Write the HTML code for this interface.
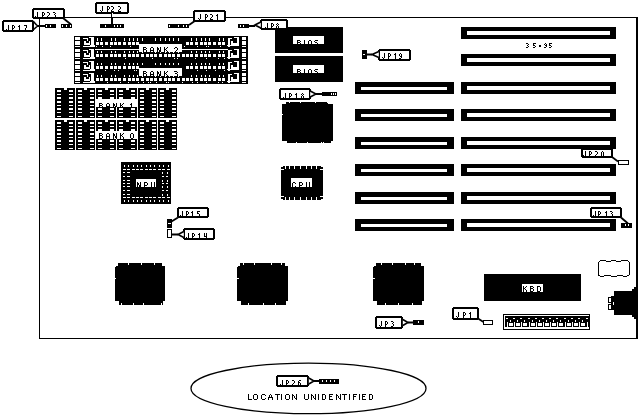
<!DOCTYPE html>
<html><head><meta charset="utf-8"><style>
html,body{margin:0;padding:0;background:#fff;width:639px;height:415px;overflow:hidden}
svg{display:block;will-change:transform}
text{font-family:"Liberation Sans",sans-serif}
</style></head><body>
<svg width="639" height="415" viewBox="0 0 639 415" shape-rendering="crispEdges">
<rect width="639" height="415" fill="#fff"/>
<rect x="39" y="17" width="598" height="1" fill="#000"/>
<rect x="39" y="17" width="1" height="322" fill="#000"/>
<rect x="39" y="338" width="598" height="1" fill="#000"/>
<rect x="636" y="17" width="2" height="322" fill="#000"/>
<rect x="461" y="27" width="155" height="12" fill="#000"/>
<rect x="467" y="31" width="143" height="4" fill="#fff"/>
<rect x="461" y="54" width="155" height="12" fill="#000"/>
<rect x="467" y="58" width="143" height="4" fill="#fff"/>
<rect x="461" y="82" width="155" height="12" fill="#000"/>
<rect x="467" y="86" width="143" height="4" fill="#fff"/>
<rect x="461" y="109" width="155" height="12" fill="#000"/>
<rect x="467" y="113" width="143" height="4" fill="#fff"/>
<rect x="461" y="137" width="155" height="12" fill="#000"/>
<rect x="467" y="141" width="143" height="4" fill="#fff"/>
<rect x="461" y="164" width="155" height="12" fill="#000"/>
<rect x="467" y="168" width="143" height="4" fill="#fff"/>
<rect x="461" y="192" width="155" height="12" fill="#000"/>
<rect x="467" y="196" width="143" height="4" fill="#fff"/>
<rect x="461" y="219" width="155" height="12" fill="#000"/>
<rect x="467" y="223" width="143" height="4" fill="#fff"/>
<rect x="355" y="82" width="99" height="12" fill="#000"/>
<rect x="361" y="87" width="86" height="3" fill="#fff"/>
<rect x="355" y="109" width="99" height="12" fill="#000"/>
<rect x="361" y="114" width="86" height="3" fill="#fff"/>
<rect x="355" y="137" width="99" height="12" fill="#000"/>
<rect x="361" y="142" width="86" height="3" fill="#fff"/>
<rect x="355" y="164" width="99" height="12" fill="#000"/>
<rect x="361" y="169" width="86" height="3" fill="#fff"/>
<rect x="355" y="192" width="99" height="12" fill="#000"/>
<rect x="361" y="197" width="86" height="3" fill="#fff"/>
<rect x="355" y="219" width="99" height="12" fill="#000"/>
<rect x="361" y="224" width="86" height="3" fill="#fff"/>
<path d="M525.6,43h2v1h-2zM527.6,44h1v1h-1zM526.6,45h1v1h-1zM527.6,46h1v1h-1zM525.6,47h2v1h-2zM532.8,43h3v1h-3zM532.8,44h1v1h-1zM532.8,45h2v1h-2zM534.8,46h1v1h-1zM532.8,47h2v1h-2zM544.7,43h1v1h-1zM543.7,44h1v1h-1zM545.7,44h1v1h-1zM544.7,45h2v1h-2zM545.7,46h1v1h-1zM543.7,47h2v1h-2zM548.7,43h3v1h-3zM548.7,44h1v1h-1zM548.7,45h2v1h-2zM550.7,46h1v1h-1zM548.7,47h2v1h-2z" fill="#000"/>
<rect x="539" y="45" width="2" height="2" fill="#000"/>
<rect x="275" y="27" width="68" height="26" fill="#000"/>
<rect x="293" y="36" width="31" height="8" fill="#fff"/>
<path d="M297,39.5h3v1h-3zM297,40.5h1v1h-1zM300,40.5h1v1h-1zM297,41.5h3v1h-3zM297,42.5h1v1h-1zM300,42.5h1v1h-1zM297,43.5h1v1h-1zM300,43.5h1v1h-1zM304,39.5h1v1h-1zM304,40.5h1v1h-1zM304,41.5h1v1h-1zM304,42.5h1v1h-1zM304,43.5h1v1h-1zM308.5,39.5h2v1h-2zM307.5,40.5h1v1h-1zM310.5,40.5h1v1h-1zM307.5,41.5h1v1h-1zM310.5,41.5h1v1h-1zM307.5,42.5h1v1h-1zM310.5,42.5h1v1h-1zM307.5,43.5h1v1h-1zM310.5,43.5h1v1h-1zM315,39.5h3v1h-3zM314,40.5h1v1h-1zM315,41.5h2v1h-2zM317,42.5h1v1h-1zM317,43.5h1v1h-1z" fill="#000"/>
<rect x="275" y="56" width="68" height="26" fill="#000"/>
<rect x="293" y="65" width="31" height="8" fill="#fff"/>
<path d="M297,68.5h3v1h-3zM297,69.5h1v1h-1zM300,69.5h1v1h-1zM297,70.5h3v1h-3zM297,71.5h1v1h-1zM300,71.5h1v1h-1zM297,72.5h1v1h-1zM300,72.5h1v1h-1zM304,68.5h1v1h-1zM304,69.5h1v1h-1zM304,70.5h1v1h-1zM304,71.5h1v1h-1zM304,72.5h1v1h-1zM308.5,68.5h2v1h-2zM307.5,69.5h1v1h-1zM310.5,69.5h1v1h-1zM307.5,70.5h1v1h-1zM310.5,70.5h1v1h-1zM307.5,71.5h1v1h-1zM310.5,71.5h1v1h-1zM307.5,72.5h1v1h-1zM310.5,72.5h1v1h-1zM315,68.5h3v1h-3zM314,69.5h1v1h-1zM315,70.5h2v1h-2zM317,71.5h1v1h-1zM317,72.5h1v1h-1z" fill="#000"/>
<rect x="282" y="104" width="51" height="37" fill="#000"/>
<rect x="286" y="102" width="42" height="2" fill="#000"/>
<rect x="287" y="141" width="44" height="2" fill="#000"/>
<rect x="289" y="102" width="1" height="1" fill="#fff"/>
<rect x="300" y="102" width="1" height="1" fill="#fff"/>
<rect x="315" y="102" width="1" height="1" fill="#fff"/>
<rect x="327" y="102" width="1" height="1" fill="#fff"/>
<rect x="296" y="142" width="1" height="1" fill="#fff"/>
<rect x="307" y="142" width="1" height="1" fill="#fff"/>
<rect x="321" y="142" width="1" height="1" fill="#fff"/>
<rect x="323" y="142" width="1" height="1" fill="#fff"/>
<rect x="282" y="114" width="1" height="1" fill="#fff"/>
<rect x="281" y="166" width="42" height="34" fill="#000"/>
<rect x="285" y="166" width="1" height="3" fill="#fff"/>
<rect x="285" y="197" width="1" height="3" fill="#fff"/>
<rect x="289" y="166" width="1" height="3" fill="#fff"/>
<rect x="289" y="197" width="1" height="3" fill="#fff"/>
<rect x="294" y="166" width="1" height="3" fill="#fff"/>
<rect x="294" y="197" width="1" height="3" fill="#fff"/>
<rect x="300" y="166" width="1" height="3" fill="#fff"/>
<rect x="300" y="197" width="1" height="3" fill="#fff"/>
<rect x="306" y="166" width="1" height="3" fill="#fff"/>
<rect x="306" y="197" width="1" height="3" fill="#fff"/>
<rect x="311" y="166" width="1" height="3" fill="#fff"/>
<rect x="311" y="197" width="1" height="3" fill="#fff"/>
<rect x="316" y="166" width="1" height="3" fill="#fff"/>
<rect x="316" y="197" width="1" height="3" fill="#fff"/>
<rect x="281" y="169" width="3" height="1" fill="#fff"/>
<rect x="320" y="169" width="3" height="1" fill="#fff"/>
<rect x="281" y="196" width="3" height="1" fill="#fff"/>
<rect x="320" y="196" width="3" height="1" fill="#fff"/>
<rect x="281" y="166" width="2" height="1" fill="#fff"/>
<rect x="321" y="166" width="2" height="1" fill="#fff"/>
<rect x="281" y="199" width="2" height="1" fill="#fff"/>
<rect x="321" y="199" width="2" height="1" fill="#fff"/>
<rect x="291" y="178" width="21" height="9" fill="#fff"/>
<path d="M293,181.5h2v1h-2zM292,182.5h1v1h-1zM295,182.5h1v1h-1zM292,183.5h1v1h-1zM292,184.5h1v1h-1zM292,185.5h1v1h-1zM295,185.5h1v1h-1zM293,186.5h2v1h-2zM299,181.5h3v1h-3zM299,182.5h1v1h-1zM302,182.5h1v1h-1zM299,183.5h1v1h-1zM302,183.5h1v1h-1zM299,184.5h3v1h-3zM299,185.5h1v1h-1zM299,186.5h1v1h-1zM306,181.5h1v1h-1zM309,181.5h1v1h-1zM306,182.5h1v1h-1zM309,182.5h1v1h-1zM306,183.5h1v1h-1zM309,183.5h1v1h-1zM306,184.5h1v1h-1zM309,184.5h1v1h-1zM306,185.5h1v1h-1zM309,185.5h1v1h-1zM307,186.5h2v1h-2z" fill="#000"/>
<rect x="121" y="162" width="50" height="42" fill="#000"/>
<rect x="136" y="179" width="20" height="8" fill="#fff"/>
<path d="M136.8,181.8h1v1h-1zM139.8,181.8h1v1h-1zM136.8,182.8h2v1h-2zM139.8,182.8h1v1h-1zM136.8,183.8h2v1h-2zM139.8,183.8h1v1h-1zM136.8,184.8h1v1h-1zM138.8,184.8h2v1h-2zM136.8,185.8h1v1h-1zM138.8,185.8h2v1h-2zM136.8,186.8h1v1h-1zM139.8,186.8h1v1h-1zM143.6,181.8h3v1h-3zM143.6,182.8h1v1h-1zM146.6,182.8h1v1h-1zM143.6,183.8h1v1h-1zM146.6,183.8h1v1h-1zM143.6,184.8h3v1h-3zM143.6,185.8h1v1h-1zM143.6,186.8h1v1h-1zM150.6,181.8h1v1h-1zM153.6,181.8h1v1h-1zM150.6,182.8h1v1h-1zM153.6,182.8h1v1h-1zM150.6,183.8h1v1h-1zM153.6,183.8h1v1h-1zM150.6,184.8h1v1h-1zM153.6,184.8h1v1h-1zM150.6,185.8h1v1h-1zM153.6,185.8h1v1h-1zM151.6,186.8h2v1h-2z" fill="#000"/>
<rect x="124" y="165" width="1" height="2" fill="#fff"/>
<rect x="123" y="169" width="3" height="1" fill="#fff"/>
<rect x="123" y="197" width="3" height="1" fill="#fff"/>
<rect x="124" y="200" width="1" height="2" fill="#fff"/>
<rect x="128" y="165" width="1" height="2" fill="#fff"/>
<rect x="127" y="169" width="3" height="1" fill="#fff"/>
<rect x="127" y="197" width="3" height="1" fill="#fff"/>
<rect x="128" y="200" width="1" height="2" fill="#fff"/>
<rect x="133" y="165" width="1" height="2" fill="#fff"/>
<rect x="132" y="169" width="3" height="1" fill="#fff"/>
<rect x="132" y="197" width="3" height="1" fill="#fff"/>
<rect x="133" y="200" width="1" height="2" fill="#fff"/>
<rect x="137" y="165" width="1" height="2" fill="#fff"/>
<rect x="136" y="169" width="3" height="1" fill="#fff"/>
<rect x="136" y="197" width="3" height="1" fill="#fff"/>
<rect x="137" y="200" width="1" height="2" fill="#fff"/>
<rect x="141" y="165" width="1" height="2" fill="#fff"/>
<rect x="140" y="169" width="3" height="1" fill="#fff"/>
<rect x="140" y="197" width="3" height="1" fill="#fff"/>
<rect x="141" y="200" width="1" height="2" fill="#fff"/>
<rect x="146" y="165" width="1" height="2" fill="#fff"/>
<rect x="145" y="169" width="3" height="1" fill="#fff"/>
<rect x="145" y="197" width="3" height="1" fill="#fff"/>
<rect x="146" y="200" width="1" height="2" fill="#fff"/>
<rect x="150" y="165" width="1" height="2" fill="#fff"/>
<rect x="149" y="169" width="3" height="1" fill="#fff"/>
<rect x="149" y="197" width="3" height="1" fill="#fff"/>
<rect x="150" y="200" width="1" height="2" fill="#fff"/>
<rect x="154" y="165" width="1" height="2" fill="#fff"/>
<rect x="153" y="169" width="3" height="1" fill="#fff"/>
<rect x="153" y="197" width="3" height="1" fill="#fff"/>
<rect x="154" y="200" width="1" height="2" fill="#fff"/>
<rect x="159" y="165" width="1" height="2" fill="#fff"/>
<rect x="158" y="169" width="3" height="1" fill="#fff"/>
<rect x="158" y="197" width="3" height="1" fill="#fff"/>
<rect x="159" y="200" width="1" height="2" fill="#fff"/>
<rect x="163" y="165" width="1" height="2" fill="#fff"/>
<rect x="162" y="169" width="3" height="1" fill="#fff"/>
<rect x="162" y="197" width="3" height="1" fill="#fff"/>
<rect x="163" y="200" width="1" height="2" fill="#fff"/>
<rect x="168" y="165" width="1" height="2" fill="#fff"/>
<rect x="167" y="169" width="3" height="1" fill="#fff"/>
<rect x="167" y="197" width="3" height="1" fill="#fff"/>
<rect x="168" y="200" width="1" height="2" fill="#fff"/>
<rect x="123" y="172" width="2" height="1" fill="#fff"/>
<rect x="127" y="172" width="3" height="1" fill="#fff"/>
<rect x="162" y="172" width="1" height="2" fill="#fff"/>
<rect x="167" y="172" width="1" height="2" fill="#fff"/>
<rect x="123" y="176" width="2" height="1" fill="#fff"/>
<rect x="127" y="176" width="3" height="1" fill="#fff"/>
<rect x="162" y="176" width="2" height="1" fill="#fff"/>
<rect x="166" y="176" width="2" height="1" fill="#fff"/>
<rect x="123" y="180" width="2" height="1" fill="#fff"/>
<rect x="127" y="180" width="3" height="1" fill="#fff"/>
<rect x="162" y="180" width="1" height="2" fill="#fff"/>
<rect x="167" y="180" width="1" height="2" fill="#fff"/>
<rect x="123" y="183" width="2" height="1" fill="#fff"/>
<rect x="127" y="183" width="3" height="1" fill="#fff"/>
<rect x="162" y="183" width="2" height="1" fill="#fff"/>
<rect x="166" y="183" width="2" height="1" fill="#fff"/>
<rect x="123" y="186" width="2" height="1" fill="#fff"/>
<rect x="127" y="186" width="3" height="1" fill="#fff"/>
<rect x="162" y="186" width="1" height="2" fill="#fff"/>
<rect x="167" y="186" width="1" height="2" fill="#fff"/>
<rect x="123" y="190" width="2" height="1" fill="#fff"/>
<rect x="127" y="190" width="3" height="1" fill="#fff"/>
<rect x="162" y="190" width="2" height="1" fill="#fff"/>
<rect x="166" y="190" width="2" height="1" fill="#fff"/>
<rect x="123" y="194" width="2" height="1" fill="#fff"/>
<rect x="127" y="194" width="3" height="1" fill="#fff"/>
<rect x="162" y="194" width="1" height="2" fill="#fff"/>
<rect x="167" y="194" width="1" height="2" fill="#fff"/>
<rect x="115" y="267" width="50" height="34" fill="#000"/>
<rect x="118" y="263" width="44" height="4" fill="#000"/>
<rect x="116" y="266" width="49" height="1" fill="#000"/>
<rect x="119" y="301" width="44" height="4" fill="#000"/>
<rect x="115" y="300" width="49" height="1" fill="#000"/>
<rect x="128" y="263" width="1" height="2" fill="#fff"/>
<rect x="141" y="263" width="1" height="2" fill="#fff"/>
<rect x="154" y="263" width="1" height="2" fill="#fff"/>
<rect x="121" y="303" width="1" height="2" fill="#fff"/>
<rect x="133" y="303" width="1" height="2" fill="#fff"/>
<rect x="143" y="303" width="1" height="2" fill="#fff"/>
<rect x="161" y="303" width="1" height="2" fill="#fff"/>
<rect x="115" y="293" width="0" height="0" fill="#fff"/>
<rect x="237" y="267" width="51" height="34" fill="#000"/>
<rect x="240" y="263" width="45" height="4" fill="#000"/>
<rect x="238" y="266" width="50" height="1" fill="#000"/>
<rect x="241" y="301" width="45" height="4" fill="#000"/>
<rect x="237" y="300" width="50" height="1" fill="#000"/>
<rect x="243" y="263" width="1" height="2" fill="#fff"/>
<rect x="254" y="263" width="1" height="2" fill="#fff"/>
<rect x="271" y="263" width="1" height="2" fill="#fff"/>
<rect x="281" y="263" width="1" height="2" fill="#fff"/>
<rect x="248" y="303" width="1" height="2" fill="#fff"/>
<rect x="263" y="303" width="1" height="2" fill="#fff"/>
<rect x="275" y="303" width="1" height="2" fill="#fff"/>
<rect x="237" y="293" width="0" height="0" fill="#fff"/>
<rect x="373" y="267" width="51" height="34" fill="#000"/>
<rect x="376" y="263" width="45" height="4" fill="#000"/>
<rect x="374" y="266" width="50" height="1" fill="#000"/>
<rect x="377" y="301" width="45" height="4" fill="#000"/>
<rect x="373" y="300" width="50" height="1" fill="#000"/>
<rect x="381" y="263" width="1" height="2" fill="#fff"/>
<rect x="392" y="263" width="1" height="2" fill="#fff"/>
<rect x="405" y="263" width="1" height="2" fill="#fff"/>
<rect x="414" y="263" width="1" height="2" fill="#fff"/>
<rect x="385" y="303" width="1" height="2" fill="#fff"/>
<rect x="398" y="303" width="1" height="2" fill="#fff"/>
<rect x="412" y="303" width="1" height="2" fill="#fff"/>
<rect x="373" y="293" width="0" height="0" fill="#fff"/>
<rect x="115" y="278" width="1" height="1" fill="#fff"/>
<rect x="237" y="278" width="2" height="1" fill="#fff"/>
<rect x="373" y="278" width="2" height="1" fill="#fff"/>
<rect x="484" y="274" width="97" height="27" fill="#000"/>
<rect x="522" y="284" width="21" height="8" fill="#fff"/>
<path d="M522.7,286h1v1h-1zM525.7,286h1v1h-1zM522.7,287h1v1h-1zM524.7,287h1v1h-1zM522.7,288h2v1h-2zM522.7,289h1v1h-1zM524.7,289h1v1h-1zM522.7,290h1v1h-1zM525.7,290h1v1h-1zM522.7,291h1v1h-1zM525.7,291h1v1h-1zM530,286h3v1h-3zM530,287h1v1h-1zM533,287h1v1h-1zM530,288h3v1h-3zM530,289h1v1h-1zM533,289h1v1h-1zM530,290h1v1h-1zM533,290h1v1h-1zM530,291h3v1h-3zM537,286h3v1h-3zM537,287h1v1h-1zM540,287h1v1h-1zM537,288h1v1h-1zM540,288h1v1h-1zM537,289h1v1h-1zM540,289h1v1h-1zM537,290h1v1h-1zM540,290h1v1h-1zM537,291h3v1h-3z" fill="#000"/>
<rect x="600" y="260" width="6" height="1" fill="#000"/>
<rect x="606" y="261" width="5" height="1" fill="#000"/>
<rect x="611" y="260" width="5" height="1" fill="#000"/>
<rect x="616" y="261" width="5" height="1" fill="#000"/>
<rect x="621" y="260" width="7" height="1" fill="#000"/>
<rect x="628" y="261" width="1" height="1" fill="#000"/>
<rect x="629" y="262" width="1" height="13" fill="#000"/>
<rect x="598" y="262" width="1" height="13" fill="#000"/>
<rect x="599" y="261" width="1" height="1" fill="#000"/>
<rect x="598" y="275" width="2" height="1" fill="#000"/>
<rect x="600" y="276" width="4" height="1" fill="#000"/>
<rect x="604" y="275" width="7" height="1" fill="#000"/>
<rect x="611" y="276" width="6" height="1" fill="#000"/>
<rect x="617" y="275" width="6" height="1" fill="#000"/>
<rect x="623" y="276" width="4" height="1" fill="#000"/>
<rect x="627" y="275" width="2" height="1" fill="#000"/>
<rect x="614" y="291" width="22" height="24" fill="#000"/>
<rect x="632" y="289" width="4" height="2" fill="#000"/>
<rect x="634" y="287" width="2" height="2" fill="#000"/>
<rect x="632" y="315" width="4" height="2" fill="#000"/>
<rect x="634" y="317" width="2" height="2" fill="#000"/>
<rect x="611" y="296" width="3" height="14" fill="#000"/>
<rect x="613" y="302" width="1" height="3" fill="#fff"/>
<rect x="608.5" y="297.5" width="3" height="5" fill="#fff" stroke="#000"/>
<rect x="608.5" y="304.5" width="3" height="5" fill="#fff" stroke="#000"/>
<rect x="503" y="314" width="87" height="16" fill="#000"/>
<rect x="504" y="315" width="85" height="14" fill="#fff"/>
<rect x="505" y="316" width="84" height="11" fill="#000"/>
<rect x="504" y="320" width="1" height="2" fill="#fff"/>
<rect x="509" y="323" width="4" height="3" fill="#fff"/>
<rect x="510" y="320" width="1" height="2" fill="#fff"/>
<rect x="507" y="322" width="1" height="5" fill="#fff"/>
<rect x="506" y="318" width="2" height="1" fill="#fff"/>
<rect x="516" y="323" width="4" height="3" fill="#fff"/>
<rect x="517" y="320" width="1" height="2" fill="#fff"/>
<rect x="514" y="322" width="1" height="5" fill="#fff"/>
<rect x="513" y="318" width="2" height="1" fill="#fff"/>
<rect x="523" y="323" width="4" height="3" fill="#fff"/>
<rect x="524" y="320" width="1" height="2" fill="#fff"/>
<rect x="521" y="322" width="1" height="5" fill="#fff"/>
<rect x="520" y="318" width="2" height="1" fill="#fff"/>
<rect x="531" y="323" width="4" height="3" fill="#fff"/>
<rect x="532" y="320" width="1" height="2" fill="#fff"/>
<rect x="529" y="322" width="1" height="5" fill="#fff"/>
<rect x="528" y="318" width="2" height="1" fill="#fff"/>
<rect x="538" y="323" width="4" height="3" fill="#fff"/>
<rect x="539" y="320" width="1" height="2" fill="#fff"/>
<rect x="536" y="322" width="1" height="5" fill="#fff"/>
<rect x="535" y="318" width="2" height="1" fill="#fff"/>
<rect x="545" y="323" width="4" height="3" fill="#fff"/>
<rect x="546" y="320" width="1" height="2" fill="#fff"/>
<rect x="543" y="322" width="1" height="5" fill="#fff"/>
<rect x="542" y="318" width="2" height="1" fill="#fff"/>
<rect x="552" y="323" width="4" height="3" fill="#fff"/>
<rect x="553" y="320" width="1" height="2" fill="#fff"/>
<rect x="550" y="322" width="1" height="5" fill="#fff"/>
<rect x="549" y="318" width="2" height="1" fill="#fff"/>
<rect x="559" y="323" width="4" height="3" fill="#fff"/>
<rect x="560" y="320" width="1" height="2" fill="#fff"/>
<rect x="557" y="322" width="1" height="5" fill="#fff"/>
<rect x="556" y="318" width="2" height="1" fill="#fff"/>
<rect x="567" y="323" width="4" height="3" fill="#fff"/>
<rect x="568" y="320" width="1" height="2" fill="#fff"/>
<rect x="565" y="322" width="1" height="5" fill="#fff"/>
<rect x="564" y="318" width="2" height="1" fill="#fff"/>
<rect x="574" y="323" width="4" height="3" fill="#fff"/>
<rect x="575" y="320" width="1" height="2" fill="#fff"/>
<rect x="572" y="322" width="1" height="5" fill="#fff"/>
<rect x="571" y="318" width="2" height="1" fill="#fff"/>
<rect x="581" y="323" width="4" height="3" fill="#fff"/>
<rect x="582" y="320" width="1" height="2" fill="#fff"/>
<rect x="579" y="322" width="1" height="5" fill="#fff"/>
<rect x="578" y="318" width="2" height="1" fill="#fff"/>
<rect x="587" y="322" width="1" height="5" fill="#fff"/>
<rect x="586" y="318" width="2" height="1" fill="#fff"/>
<rect x="55" y="88" width="20" height="30" fill="#000"/>
<rect x="64" y="88" width="3" height="2" fill="#fff"/>
<rect x="57" y="90" width="4" height="2" fill="#fff"/>
<rect x="69" y="90" width="4" height="2" fill="#fff"/>
<rect x="57" y="94" width="4" height="1" fill="#fff"/>
<rect x="69" y="94" width="4" height="1" fill="#fff"/>
<rect x="57" y="97" width="4" height="2" fill="#fff"/>
<rect x="69" y="97" width="4" height="2" fill="#fff"/>
<rect x="57" y="101" width="4" height="2" fill="#fff"/>
<rect x="69" y="101" width="4" height="2" fill="#fff"/>
<rect x="57" y="105" width="4" height="1" fill="#fff"/>
<rect x="69" y="105" width="4" height="1" fill="#fff"/>
<rect x="57" y="108" width="4" height="2" fill="#fff"/>
<rect x="69" y="108" width="4" height="2" fill="#fff"/>
<rect x="57" y="112" width="4" height="1" fill="#fff"/>
<rect x="69" y="112" width="4" height="1" fill="#fff"/>
<rect x="57" y="116" width="4" height="1" fill="#fff"/>
<rect x="69" y="116" width="4" height="1" fill="#fff"/>
<rect x="76" y="88" width="19" height="30" fill="#000"/>
<rect x="84" y="88" width="3" height="2" fill="#fff"/>
<rect x="78" y="90" width="4" height="2" fill="#fff"/>
<rect x="90" y="90" width="4" height="2" fill="#fff"/>
<rect x="78" y="94" width="4" height="1" fill="#fff"/>
<rect x="90" y="94" width="4" height="1" fill="#fff"/>
<rect x="78" y="97" width="4" height="2" fill="#fff"/>
<rect x="90" y="97" width="4" height="2" fill="#fff"/>
<rect x="78" y="101" width="4" height="2" fill="#fff"/>
<rect x="90" y="101" width="4" height="2" fill="#fff"/>
<rect x="78" y="105" width="4" height="1" fill="#fff"/>
<rect x="90" y="105" width="4" height="1" fill="#fff"/>
<rect x="78" y="108" width="4" height="2" fill="#fff"/>
<rect x="90" y="108" width="4" height="2" fill="#fff"/>
<rect x="78" y="112" width="4" height="1" fill="#fff"/>
<rect x="90" y="112" width="4" height="1" fill="#fff"/>
<rect x="78" y="116" width="4" height="1" fill="#fff"/>
<rect x="90" y="116" width="4" height="1" fill="#fff"/>
<rect x="96" y="88" width="20" height="30" fill="#000"/>
<rect x="105" y="88" width="3" height="2" fill="#fff"/>
<rect x="98" y="90" width="4" height="2" fill="#fff"/>
<rect x="110" y="90" width="4" height="2" fill="#fff"/>
<rect x="98" y="94" width="4" height="1" fill="#fff"/>
<rect x="110" y="94" width="4" height="1" fill="#fff"/>
<rect x="98" y="97" width="4" height="2" fill="#fff"/>
<rect x="110" y="97" width="4" height="2" fill="#fff"/>
<rect x="98" y="101" width="4" height="2" fill="#fff"/>
<rect x="110" y="101" width="4" height="2" fill="#fff"/>
<rect x="98" y="105" width="4" height="1" fill="#fff"/>
<rect x="110" y="105" width="4" height="1" fill="#fff"/>
<rect x="98" y="108" width="4" height="2" fill="#fff"/>
<rect x="110" y="108" width="4" height="2" fill="#fff"/>
<rect x="98" y="112" width="4" height="1" fill="#fff"/>
<rect x="110" y="112" width="4" height="1" fill="#fff"/>
<rect x="98" y="116" width="4" height="1" fill="#fff"/>
<rect x="110" y="116" width="4" height="1" fill="#fff"/>
<rect x="117" y="88" width="20" height="30" fill="#000"/>
<rect x="126" y="88" width="3" height="2" fill="#fff"/>
<rect x="119" y="90" width="4" height="2" fill="#fff"/>
<rect x="131" y="90" width="4" height="2" fill="#fff"/>
<rect x="119" y="94" width="4" height="1" fill="#fff"/>
<rect x="131" y="94" width="4" height="1" fill="#fff"/>
<rect x="119" y="97" width="4" height="2" fill="#fff"/>
<rect x="131" y="97" width="4" height="2" fill="#fff"/>
<rect x="119" y="101" width="4" height="2" fill="#fff"/>
<rect x="131" y="101" width="4" height="2" fill="#fff"/>
<rect x="119" y="105" width="4" height="1" fill="#fff"/>
<rect x="131" y="105" width="4" height="1" fill="#fff"/>
<rect x="119" y="108" width="4" height="2" fill="#fff"/>
<rect x="131" y="108" width="4" height="2" fill="#fff"/>
<rect x="119" y="112" width="4" height="1" fill="#fff"/>
<rect x="131" y="112" width="4" height="1" fill="#fff"/>
<rect x="119" y="116" width="4" height="1" fill="#fff"/>
<rect x="131" y="116" width="4" height="1" fill="#fff"/>
<rect x="138" y="88" width="19" height="30" fill="#000"/>
<rect x="146" y="88" width="3" height="2" fill="#fff"/>
<rect x="140" y="90" width="4" height="2" fill="#fff"/>
<rect x="152" y="90" width="4" height="2" fill="#fff"/>
<rect x="140" y="94" width="4" height="1" fill="#fff"/>
<rect x="152" y="94" width="4" height="1" fill="#fff"/>
<rect x="140" y="97" width="4" height="2" fill="#fff"/>
<rect x="152" y="97" width="4" height="2" fill="#fff"/>
<rect x="140" y="101" width="4" height="2" fill="#fff"/>
<rect x="152" y="101" width="4" height="2" fill="#fff"/>
<rect x="140" y="105" width="4" height="1" fill="#fff"/>
<rect x="152" y="105" width="4" height="1" fill="#fff"/>
<rect x="140" y="108" width="4" height="2" fill="#fff"/>
<rect x="152" y="108" width="4" height="2" fill="#fff"/>
<rect x="140" y="112" width="4" height="1" fill="#fff"/>
<rect x="152" y="112" width="4" height="1" fill="#fff"/>
<rect x="140" y="116" width="4" height="1" fill="#fff"/>
<rect x="152" y="116" width="4" height="1" fill="#fff"/>
<rect x="158" y="88" width="19" height="30" fill="#000"/>
<rect x="166" y="88" width="3" height="2" fill="#fff"/>
<rect x="160" y="90" width="4" height="2" fill="#fff"/>
<rect x="172" y="90" width="4" height="2" fill="#fff"/>
<rect x="160" y="94" width="4" height="1" fill="#fff"/>
<rect x="172" y="94" width="4" height="1" fill="#fff"/>
<rect x="160" y="97" width="4" height="2" fill="#fff"/>
<rect x="172" y="97" width="4" height="2" fill="#fff"/>
<rect x="160" y="101" width="4" height="2" fill="#fff"/>
<rect x="172" y="101" width="4" height="2" fill="#fff"/>
<rect x="160" y="105" width="4" height="1" fill="#fff"/>
<rect x="172" y="105" width="4" height="1" fill="#fff"/>
<rect x="160" y="108" width="4" height="2" fill="#fff"/>
<rect x="172" y="108" width="4" height="2" fill="#fff"/>
<rect x="160" y="112" width="4" height="1" fill="#fff"/>
<rect x="172" y="112" width="4" height="1" fill="#fff"/>
<rect x="160" y="116" width="4" height="1" fill="#fff"/>
<rect x="172" y="116" width="4" height="1" fill="#fff"/>
<rect x="55" y="120" width="20" height="30" fill="#000"/>
<rect x="64" y="120" width="3" height="2" fill="#fff"/>
<rect x="57" y="122" width="4" height="2" fill="#fff"/>
<rect x="69" y="122" width="4" height="2" fill="#fff"/>
<rect x="57" y="126" width="4" height="1" fill="#fff"/>
<rect x="69" y="126" width="4" height="1" fill="#fff"/>
<rect x="57" y="129" width="4" height="2" fill="#fff"/>
<rect x="69" y="129" width="4" height="2" fill="#fff"/>
<rect x="57" y="133" width="4" height="2" fill="#fff"/>
<rect x="69" y="133" width="4" height="2" fill="#fff"/>
<rect x="57" y="137" width="4" height="1" fill="#fff"/>
<rect x="69" y="137" width="4" height="1" fill="#fff"/>
<rect x="57" y="140" width="4" height="2" fill="#fff"/>
<rect x="69" y="140" width="4" height="2" fill="#fff"/>
<rect x="57" y="144" width="4" height="1" fill="#fff"/>
<rect x="69" y="144" width="4" height="1" fill="#fff"/>
<rect x="57" y="148" width="4" height="1" fill="#fff"/>
<rect x="69" y="148" width="4" height="1" fill="#fff"/>
<rect x="76" y="120" width="19" height="30" fill="#000"/>
<rect x="84" y="120" width="3" height="2" fill="#fff"/>
<rect x="78" y="122" width="4" height="2" fill="#fff"/>
<rect x="90" y="122" width="4" height="2" fill="#fff"/>
<rect x="78" y="126" width="4" height="1" fill="#fff"/>
<rect x="90" y="126" width="4" height="1" fill="#fff"/>
<rect x="78" y="129" width="4" height="2" fill="#fff"/>
<rect x="90" y="129" width="4" height="2" fill="#fff"/>
<rect x="78" y="133" width="4" height="2" fill="#fff"/>
<rect x="90" y="133" width="4" height="2" fill="#fff"/>
<rect x="78" y="137" width="4" height="1" fill="#fff"/>
<rect x="90" y="137" width="4" height="1" fill="#fff"/>
<rect x="78" y="140" width="4" height="2" fill="#fff"/>
<rect x="90" y="140" width="4" height="2" fill="#fff"/>
<rect x="78" y="144" width="4" height="1" fill="#fff"/>
<rect x="90" y="144" width="4" height="1" fill="#fff"/>
<rect x="78" y="148" width="4" height="1" fill="#fff"/>
<rect x="90" y="148" width="4" height="1" fill="#fff"/>
<rect x="96" y="120" width="20" height="30" fill="#000"/>
<rect x="105" y="120" width="3" height="2" fill="#fff"/>
<rect x="98" y="122" width="4" height="2" fill="#fff"/>
<rect x="110" y="122" width="4" height="2" fill="#fff"/>
<rect x="98" y="126" width="4" height="1" fill="#fff"/>
<rect x="110" y="126" width="4" height="1" fill="#fff"/>
<rect x="98" y="129" width="4" height="2" fill="#fff"/>
<rect x="110" y="129" width="4" height="2" fill="#fff"/>
<rect x="98" y="133" width="4" height="2" fill="#fff"/>
<rect x="110" y="133" width="4" height="2" fill="#fff"/>
<rect x="98" y="137" width="4" height="1" fill="#fff"/>
<rect x="110" y="137" width="4" height="1" fill="#fff"/>
<rect x="98" y="140" width="4" height="2" fill="#fff"/>
<rect x="110" y="140" width="4" height="2" fill="#fff"/>
<rect x="98" y="144" width="4" height="1" fill="#fff"/>
<rect x="110" y="144" width="4" height="1" fill="#fff"/>
<rect x="98" y="148" width="4" height="1" fill="#fff"/>
<rect x="110" y="148" width="4" height="1" fill="#fff"/>
<rect x="117" y="120" width="20" height="30" fill="#000"/>
<rect x="126" y="120" width="3" height="2" fill="#fff"/>
<rect x="119" y="122" width="4" height="2" fill="#fff"/>
<rect x="131" y="122" width="4" height="2" fill="#fff"/>
<rect x="119" y="126" width="4" height="1" fill="#fff"/>
<rect x="131" y="126" width="4" height="1" fill="#fff"/>
<rect x="119" y="129" width="4" height="2" fill="#fff"/>
<rect x="131" y="129" width="4" height="2" fill="#fff"/>
<rect x="119" y="133" width="4" height="2" fill="#fff"/>
<rect x="131" y="133" width="4" height="2" fill="#fff"/>
<rect x="119" y="137" width="4" height="1" fill="#fff"/>
<rect x="131" y="137" width="4" height="1" fill="#fff"/>
<rect x="119" y="140" width="4" height="2" fill="#fff"/>
<rect x="131" y="140" width="4" height="2" fill="#fff"/>
<rect x="119" y="144" width="4" height="1" fill="#fff"/>
<rect x="131" y="144" width="4" height="1" fill="#fff"/>
<rect x="119" y="148" width="4" height="1" fill="#fff"/>
<rect x="131" y="148" width="4" height="1" fill="#fff"/>
<rect x="138" y="120" width="19" height="30" fill="#000"/>
<rect x="146" y="120" width="3" height="2" fill="#fff"/>
<rect x="140" y="122" width="4" height="2" fill="#fff"/>
<rect x="152" y="122" width="4" height="2" fill="#fff"/>
<rect x="140" y="126" width="4" height="1" fill="#fff"/>
<rect x="152" y="126" width="4" height="1" fill="#fff"/>
<rect x="140" y="129" width="4" height="2" fill="#fff"/>
<rect x="152" y="129" width="4" height="2" fill="#fff"/>
<rect x="140" y="133" width="4" height="2" fill="#fff"/>
<rect x="152" y="133" width="4" height="2" fill="#fff"/>
<rect x="140" y="137" width="4" height="1" fill="#fff"/>
<rect x="152" y="137" width="4" height="1" fill="#fff"/>
<rect x="140" y="140" width="4" height="2" fill="#fff"/>
<rect x="152" y="140" width="4" height="2" fill="#fff"/>
<rect x="140" y="144" width="4" height="1" fill="#fff"/>
<rect x="152" y="144" width="4" height="1" fill="#fff"/>
<rect x="140" y="148" width="4" height="1" fill="#fff"/>
<rect x="152" y="148" width="4" height="1" fill="#fff"/>
<rect x="158" y="120" width="19" height="30" fill="#000"/>
<rect x="166" y="120" width="3" height="2" fill="#fff"/>
<rect x="160" y="122" width="4" height="2" fill="#fff"/>
<rect x="172" y="122" width="4" height="2" fill="#fff"/>
<rect x="160" y="126" width="4" height="1" fill="#fff"/>
<rect x="172" y="126" width="4" height="1" fill="#fff"/>
<rect x="160" y="129" width="4" height="2" fill="#fff"/>
<rect x="172" y="129" width="4" height="2" fill="#fff"/>
<rect x="160" y="133" width="4" height="2" fill="#fff"/>
<rect x="172" y="133" width="4" height="2" fill="#fff"/>
<rect x="160" y="137" width="4" height="1" fill="#fff"/>
<rect x="172" y="137" width="4" height="1" fill="#fff"/>
<rect x="160" y="140" width="4" height="2" fill="#fff"/>
<rect x="172" y="140" width="4" height="2" fill="#fff"/>
<rect x="160" y="144" width="4" height="1" fill="#fff"/>
<rect x="172" y="144" width="4" height="1" fill="#fff"/>
<rect x="160" y="148" width="4" height="1" fill="#fff"/>
<rect x="172" y="148" width="4" height="1" fill="#fff"/>
<rect x="95" y="99" width="42" height="8" fill="#fff"/>
<path d="M99,103h3v1h-3zM99,104h1v1h-1zM102,104h1v1h-1zM99,105h3v1h-3zM99,106h1v1h-1zM102,106h1v1h-1zM106.5,103h2v1h-2zM105.5,104h1v1h-1zM108.5,104h1v1h-1zM105.5,105h1v1h-1zM108.5,105h1v1h-1zM105.5,106h4v1h-4zM112.5,103h1v1h-1zM115.5,103h1v1h-1zM112.5,104h2v1h-2zM115.5,104h1v1h-1zM112.5,105h2v1h-2zM115.5,105h1v1h-1zM112.5,106h1v1h-1zM114.5,106h2v1h-2zM120,103h1v1h-1zM123,103h1v1h-1zM120,104h1v1h-1zM122,104h1v1h-1zM120,105h2v1h-2zM120,106h1v1h-1zM122,106h1v1h-1zM131,103h1v1h-1zM130,104h2v1h-2zM131,105h1v1h-1zM131,106h1v1h-1z" fill="#000"/>
<rect x="95" y="131" width="42" height="8" fill="#fff"/>
<path d="M99,133h3v1h-3zM99,134h1v1h-1zM102,134h1v1h-1zM99,135h3v1h-3zM99,136h1v1h-1zM102,136h1v1h-1zM99,137h1v1h-1zM102,137h1v1h-1zM99,138h3v1h-3zM106.5,133h2v1h-2zM105.5,134h1v1h-1zM108.5,134h1v1h-1zM105.5,135h1v1h-1zM108.5,135h1v1h-1zM105.5,136h4v1h-4zM105.5,137h1v1h-1zM108.5,137h1v1h-1zM105.5,138h1v1h-1zM108.5,138h1v1h-1zM112.5,133h1v1h-1zM115.5,133h1v1h-1zM112.5,134h2v1h-2zM115.5,134h1v1h-1zM112.5,135h2v1h-2zM115.5,135h1v1h-1zM112.5,136h1v1h-1zM114.5,136h2v1h-2zM112.5,137h1v1h-1zM114.5,137h2v1h-2zM112.5,138h1v1h-1zM115.5,138h1v1h-1zM120,133h1v1h-1zM123,133h1v1h-1zM120,134h1v1h-1zM122,134h1v1h-1zM120,135h2v1h-2zM120,136h1v1h-1zM122,136h1v1h-1zM120,137h1v1h-1zM123,137h1v1h-1zM120,138h1v1h-1zM123,138h1v1h-1zM131,133h2v1h-2zM130,134h1v1h-1zM133,134h1v1h-1zM130,135h1v1h-1zM133,135h1v1h-1zM130,136h1v1h-1zM133,136h1v1h-1zM130,137h1v1h-1zM133,137h1v1h-1zM131,138h2v1h-2z" fill="#000"/>
<rect x="74" y="36" width="174" height="48" fill="#000"/>
<rect x="75" y="37" width="5" height="3" fill="#fff"/>
<rect x="75" y="41" width="5" height="4" fill="#fff"/>
<rect x="75" y="46" width="5" height="1" fill="#fff"/>
<rect x="83" y="38" width="5" height="1" fill="#fff"/>
<rect x="87" y="38" width="1" height="3" fill="#fff"/>
<rect x="84" y="41" width="6" height="4" fill="#fff"/>
<rect x="86" y="41" width="3" height="2" fill="#000"/>
<rect x="91" y="37" width="3" height="9" fill="#fff"/>
<rect x="89" y="37" width="2" height="1" fill="#fff"/>
<rect x="83" y="46" width="12" height="1" fill="#fff"/>
<rect x="90" y="45" width="5" height="1" fill="#fff"/>
<rect x="96" y="42" width="3" height="3" fill="#fff"/>
<rect x="97" y="38" width="1" height="3" fill="#fff"/>
<rect x="96" y="46" width="1" height="1" fill="#fff"/>
<rect x="100" y="42" width="3" height="3" fill="#fff"/>
<rect x="101" y="38" width="1" height="3" fill="#fff"/>
<rect x="102" y="46" width="1" height="1" fill="#fff"/>
<rect x="105" y="42" width="3" height="3" fill="#fff"/>
<rect x="110" y="42" width="3" height="3" fill="#fff"/>
<rect x="111" y="38" width="1" height="3" fill="#fff"/>
<rect x="110" y="46" width="1" height="1" fill="#fff"/>
<rect x="114" y="42" width="3" height="3" fill="#fff"/>
<rect x="115" y="38" width="1" height="3" fill="#fff"/>
<rect x="118" y="42" width="3" height="3" fill="#fff"/>
<rect x="123" y="42" width="3" height="3" fill="#fff"/>
<rect x="124" y="38" width="1" height="3" fill="#fff"/>
<rect x="128" y="42" width="3" height="3" fill="#fff"/>
<rect x="129" y="38" width="1" height="3" fill="#fff"/>
<rect x="130" y="46" width="1" height="1" fill="#fff"/>
<rect x="132" y="42" width="3" height="3" fill="#fff"/>
<rect x="133" y="38" width="1" height="3" fill="#fff"/>
<rect x="136" y="42" width="3" height="3" fill="#fff"/>
<rect x="137" y="38" width="1" height="3" fill="#fff"/>
<rect x="142" y="38" width="1" height="3" fill="#fff"/>
<rect x="141" y="46" width="1" height="1" fill="#fff"/>
<rect x="146" y="46" width="1" height="1" fill="#fff"/>
<rect x="155" y="38" width="1" height="3" fill="#fff"/>
<rect x="160" y="38" width="1" height="3" fill="#fff"/>
<rect x="165" y="38" width="1" height="3" fill="#fff"/>
<rect x="169" y="38" width="1" height="3" fill="#fff"/>
<rect x="168" y="46" width="1" height="1" fill="#fff"/>
<rect x="173" y="38" width="1" height="3" fill="#fff"/>
<rect x="172" y="46" width="1" height="1" fill="#fff"/>
<rect x="178" y="38" width="1" height="3" fill="#fff"/>
<rect x="184" y="46" width="1" height="1" fill="#fff"/>
<rect x="186" y="42" width="3" height="3" fill="#fff"/>
<rect x="190" y="42" width="3" height="3" fill="#fff"/>
<rect x="191" y="38" width="1" height="3" fill="#fff"/>
<rect x="195" y="42" width="3" height="3" fill="#fff"/>
<rect x="196" y="38" width="1" height="3" fill="#fff"/>
<rect x="197" y="46" width="1" height="1" fill="#fff"/>
<rect x="200" y="42" width="3" height="3" fill="#fff"/>
<rect x="201" y="38" width="1" height="3" fill="#fff"/>
<rect x="204" y="42" width="3" height="3" fill="#fff"/>
<rect x="205" y="38" width="1" height="3" fill="#fff"/>
<rect x="206" y="46" width="1" height="1" fill="#fff"/>
<rect x="208" y="42" width="3" height="3" fill="#fff"/>
<rect x="209" y="38" width="1" height="3" fill="#fff"/>
<rect x="208" y="46" width="1" height="1" fill="#fff"/>
<rect x="213" y="42" width="3" height="3" fill="#fff"/>
<rect x="218" y="42" width="3" height="3" fill="#fff"/>
<rect x="219" y="38" width="1" height="3" fill="#fff"/>
<rect x="220" y="46" width="1" height="1" fill="#fff"/>
<rect x="222" y="42" width="3" height="3" fill="#fff"/>
<rect x="223" y="38" width="1" height="3" fill="#fff"/>
<rect x="228" y="38" width="2" height="9" fill="#fff"/>
<rect x="228" y="38" width="4" height="1" fill="#fff"/>
<rect x="227" y="45" width="12" height="1" fill="#fff"/>
<rect x="234" y="37" width="5" height="1" fill="#fff"/>
<rect x="237" y="37" width="2" height="4" fill="#fff"/>
<rect x="231" y="41" width="8" height="4" fill="#fff"/>
<rect x="233" y="41" width="4" height="2" fill="#000"/>
<rect x="242" y="37" width="4" height="3" fill="#fff"/>
<rect x="242" y="41" width="4" height="4" fill="#fff"/>
<rect x="242" y="46" width="4" height="1" fill="#fff"/>
<rect x="75" y="49" width="5" height="3" fill="#fff"/>
<rect x="75" y="53" width="5" height="4" fill="#fff"/>
<rect x="75" y="58" width="5" height="1" fill="#fff"/>
<rect x="83" y="50" width="5" height="1" fill="#fff"/>
<rect x="87" y="50" width="1" height="3" fill="#fff"/>
<rect x="84" y="53" width="6" height="4" fill="#fff"/>
<rect x="86" y="53" width="3" height="2" fill="#000"/>
<rect x="91" y="49" width="3" height="9" fill="#fff"/>
<rect x="89" y="49" width="2" height="1" fill="#fff"/>
<rect x="83" y="58" width="12" height="1" fill="#fff"/>
<rect x="90" y="57" width="5" height="1" fill="#fff"/>
<rect x="96" y="54" width="3" height="3" fill="#fff"/>
<rect x="97" y="51" width="1" height="2" fill="#fff"/>
<rect x="100" y="54" width="3" height="3" fill="#fff"/>
<rect x="101" y="51" width="1" height="2" fill="#fff"/>
<rect x="105" y="54" width="3" height="3" fill="#fff"/>
<rect x="110" y="54" width="3" height="3" fill="#fff"/>
<rect x="111" y="51" width="1" height="2" fill="#fff"/>
<rect x="114" y="54" width="3" height="3" fill="#fff"/>
<rect x="115" y="51" width="1" height="2" fill="#fff"/>
<rect x="118" y="54" width="3" height="3" fill="#fff"/>
<rect x="123" y="54" width="3" height="3" fill="#fff"/>
<rect x="124" y="51" width="1" height="2" fill="#fff"/>
<rect x="125" y="58" width="1" height="1" fill="#fff"/>
<rect x="128" y="54" width="3" height="3" fill="#fff"/>
<rect x="129" y="51" width="1" height="2" fill="#fff"/>
<rect x="132" y="54" width="3" height="3" fill="#fff"/>
<rect x="133" y="51" width="1" height="2" fill="#fff"/>
<rect x="136" y="54" width="3" height="3" fill="#fff"/>
<rect x="137" y="51" width="1" height="2" fill="#fff"/>
<rect x="141" y="54" width="3" height="3" fill="#fff"/>
<rect x="142" y="51" width="1" height="2" fill="#fff"/>
<rect x="146" y="54" width="3" height="3" fill="#fff"/>
<rect x="150" y="54" width="3" height="3" fill="#fff"/>
<rect x="152" y="58" width="1" height="1" fill="#fff"/>
<rect x="154" y="54" width="3" height="3" fill="#fff"/>
<rect x="155" y="51" width="1" height="2" fill="#fff"/>
<rect x="159" y="54" width="3" height="3" fill="#fff"/>
<rect x="160" y="51" width="1" height="2" fill="#fff"/>
<rect x="164" y="54" width="3" height="3" fill="#fff"/>
<rect x="165" y="51" width="1" height="2" fill="#fff"/>
<rect x="168" y="54" width="3" height="3" fill="#fff"/>
<rect x="169" y="51" width="1" height="2" fill="#fff"/>
<rect x="172" y="54" width="3" height="3" fill="#fff"/>
<rect x="173" y="51" width="1" height="2" fill="#fff"/>
<rect x="174" y="58" width="1" height="1" fill="#fff"/>
<rect x="177" y="54" width="3" height="3" fill="#fff"/>
<rect x="178" y="51" width="1" height="2" fill="#fff"/>
<rect x="177" y="58" width="1" height="1" fill="#fff"/>
<rect x="182" y="54" width="3" height="3" fill="#fff"/>
<rect x="186" y="54" width="3" height="3" fill="#fff"/>
<rect x="190" y="54" width="3" height="3" fill="#fff"/>
<rect x="191" y="51" width="1" height="2" fill="#fff"/>
<rect x="195" y="54" width="3" height="3" fill="#fff"/>
<rect x="196" y="51" width="1" height="2" fill="#fff"/>
<rect x="195" y="58" width="1" height="1" fill="#fff"/>
<rect x="200" y="54" width="3" height="3" fill="#fff"/>
<rect x="201" y="51" width="1" height="2" fill="#fff"/>
<rect x="204" y="54" width="3" height="3" fill="#fff"/>
<rect x="205" y="51" width="1" height="2" fill="#fff"/>
<rect x="206" y="58" width="1" height="1" fill="#fff"/>
<rect x="208" y="54" width="3" height="3" fill="#fff"/>
<rect x="209" y="51" width="1" height="2" fill="#fff"/>
<rect x="213" y="54" width="3" height="3" fill="#fff"/>
<rect x="218" y="54" width="3" height="3" fill="#fff"/>
<rect x="219" y="51" width="1" height="2" fill="#fff"/>
<rect x="218" y="58" width="1" height="1" fill="#fff"/>
<rect x="222" y="54" width="3" height="3" fill="#fff"/>
<rect x="223" y="51" width="1" height="2" fill="#fff"/>
<rect x="224" y="58" width="1" height="1" fill="#fff"/>
<rect x="228" y="50" width="2" height="9" fill="#fff"/>
<rect x="228" y="50" width="4" height="1" fill="#fff"/>
<rect x="227" y="57" width="12" height="1" fill="#fff"/>
<rect x="234" y="49" width="5" height="1" fill="#fff"/>
<rect x="237" y="49" width="2" height="4" fill="#fff"/>
<rect x="231" y="53" width="8" height="4" fill="#fff"/>
<rect x="233" y="53" width="4" height="2" fill="#000"/>
<rect x="242" y="49" width="4" height="3" fill="#fff"/>
<rect x="242" y="53" width="4" height="4" fill="#fff"/>
<rect x="242" y="58" width="4" height="1" fill="#fff"/>
<rect x="75" y="61" width="5" height="3" fill="#fff"/>
<rect x="75" y="65" width="5" height="4" fill="#fff"/>
<rect x="75" y="70" width="5" height="1" fill="#fff"/>
<rect x="83" y="62" width="5" height="1" fill="#fff"/>
<rect x="87" y="62" width="1" height="3" fill="#fff"/>
<rect x="84" y="65" width="6" height="4" fill="#fff"/>
<rect x="86" y="65" width="3" height="2" fill="#000"/>
<rect x="91" y="61" width="3" height="9" fill="#fff"/>
<rect x="89" y="61" width="2" height="1" fill="#fff"/>
<rect x="83" y="70" width="12" height="1" fill="#fff"/>
<rect x="90" y="69" width="5" height="1" fill="#fff"/>
<rect x="96" y="66" width="3" height="3" fill="#fff"/>
<rect x="97" y="63" width="1" height="2" fill="#fff"/>
<rect x="100" y="66" width="3" height="3" fill="#fff"/>
<rect x="101" y="63" width="1" height="2" fill="#fff"/>
<rect x="105" y="66" width="3" height="3" fill="#fff"/>
<rect x="105" y="70" width="1" height="1" fill="#fff"/>
<rect x="110" y="66" width="3" height="3" fill="#fff"/>
<rect x="111" y="63" width="1" height="2" fill="#fff"/>
<rect x="114" y="66" width="3" height="3" fill="#fff"/>
<rect x="115" y="63" width="1" height="2" fill="#fff"/>
<rect x="114" y="70" width="1" height="1" fill="#fff"/>
<rect x="118" y="66" width="3" height="3" fill="#fff"/>
<rect x="118" y="70" width="1" height="1" fill="#fff"/>
<rect x="123" y="66" width="3" height="3" fill="#fff"/>
<rect x="124" y="63" width="1" height="2" fill="#fff"/>
<rect x="128" y="66" width="3" height="3" fill="#fff"/>
<rect x="129" y="63" width="1" height="2" fill="#fff"/>
<rect x="132" y="66" width="3" height="3" fill="#fff"/>
<rect x="133" y="63" width="1" height="2" fill="#fff"/>
<rect x="134" y="70" width="1" height="1" fill="#fff"/>
<rect x="136" y="66" width="3" height="3" fill="#fff"/>
<rect x="137" y="63" width="1" height="2" fill="#fff"/>
<rect x="136" y="70" width="1" height="1" fill="#fff"/>
<rect x="142" y="63" width="1" height="2" fill="#fff"/>
<rect x="148" y="70" width="1" height="1" fill="#fff"/>
<rect x="155" y="63" width="1" height="2" fill="#fff"/>
<rect x="160" y="63" width="1" height="2" fill="#fff"/>
<rect x="161" y="70" width="1" height="1" fill="#fff"/>
<rect x="165" y="63" width="1" height="2" fill="#fff"/>
<rect x="169" y="63" width="1" height="2" fill="#fff"/>
<rect x="168" y="70" width="1" height="1" fill="#fff"/>
<rect x="173" y="63" width="1" height="2" fill="#fff"/>
<rect x="178" y="63" width="1" height="2" fill="#fff"/>
<rect x="186" y="66" width="3" height="3" fill="#fff"/>
<rect x="190" y="66" width="3" height="3" fill="#fff"/>
<rect x="191" y="63" width="1" height="2" fill="#fff"/>
<rect x="195" y="66" width="3" height="3" fill="#fff"/>
<rect x="196" y="63" width="1" height="2" fill="#fff"/>
<rect x="197" y="70" width="1" height="1" fill="#fff"/>
<rect x="200" y="66" width="3" height="3" fill="#fff"/>
<rect x="201" y="63" width="1" height="2" fill="#fff"/>
<rect x="204" y="66" width="3" height="3" fill="#fff"/>
<rect x="205" y="63" width="1" height="2" fill="#fff"/>
<rect x="206" y="70" width="1" height="1" fill="#fff"/>
<rect x="208" y="66" width="3" height="3" fill="#fff"/>
<rect x="209" y="63" width="1" height="2" fill="#fff"/>
<rect x="213" y="66" width="3" height="3" fill="#fff"/>
<rect x="215" y="70" width="1" height="1" fill="#fff"/>
<rect x="218" y="66" width="3" height="3" fill="#fff"/>
<rect x="219" y="63" width="1" height="2" fill="#fff"/>
<rect x="222" y="66" width="3" height="3" fill="#fff"/>
<rect x="223" y="63" width="1" height="2" fill="#fff"/>
<rect x="224" y="70" width="1" height="1" fill="#fff"/>
<rect x="228" y="62" width="2" height="9" fill="#fff"/>
<rect x="228" y="62" width="4" height="1" fill="#fff"/>
<rect x="227" y="69" width="12" height="1" fill="#fff"/>
<rect x="234" y="61" width="5" height="1" fill="#fff"/>
<rect x="237" y="61" width="2" height="4" fill="#fff"/>
<rect x="231" y="65" width="8" height="4" fill="#fff"/>
<rect x="233" y="65" width="4" height="2" fill="#000"/>
<rect x="242" y="61" width="4" height="3" fill="#fff"/>
<rect x="242" y="65" width="4" height="4" fill="#fff"/>
<rect x="242" y="70" width="4" height="1" fill="#fff"/>
<rect x="75" y="73" width="5" height="3" fill="#fff"/>
<rect x="75" y="77" width="5" height="4" fill="#fff"/>
<rect x="75" y="82" width="5" height="1" fill="#fff"/>
<rect x="83" y="74" width="5" height="1" fill="#fff"/>
<rect x="87" y="74" width="1" height="3" fill="#fff"/>
<rect x="84" y="77" width="6" height="4" fill="#fff"/>
<rect x="86" y="77" width="3" height="2" fill="#000"/>
<rect x="91" y="73" width="3" height="9" fill="#fff"/>
<rect x="89" y="73" width="2" height="1" fill="#fff"/>
<rect x="83" y="82" width="12" height="1" fill="#fff"/>
<rect x="90" y="81" width="5" height="1" fill="#fff"/>
<rect x="96" y="78" width="3" height="3" fill="#fff"/>
<rect x="97" y="75" width="1" height="2" fill="#fff"/>
<rect x="100" y="78" width="3" height="3" fill="#fff"/>
<rect x="101" y="75" width="1" height="2" fill="#fff"/>
<rect x="105" y="78" width="3" height="3" fill="#fff"/>
<rect x="107" y="82" width="1" height="1" fill="#fff"/>
<rect x="110" y="78" width="3" height="3" fill="#fff"/>
<rect x="111" y="75" width="1" height="2" fill="#fff"/>
<rect x="114" y="78" width="3" height="3" fill="#fff"/>
<rect x="115" y="75" width="1" height="2" fill="#fff"/>
<rect x="118" y="78" width="3" height="3" fill="#fff"/>
<rect x="120" y="82" width="1" height="1" fill="#fff"/>
<rect x="123" y="78" width="3" height="3" fill="#fff"/>
<rect x="124" y="75" width="1" height="2" fill="#fff"/>
<rect x="128" y="78" width="3" height="3" fill="#fff"/>
<rect x="129" y="75" width="1" height="2" fill="#fff"/>
<rect x="128" y="82" width="1" height="1" fill="#fff"/>
<rect x="132" y="78" width="3" height="3" fill="#fff"/>
<rect x="133" y="75" width="1" height="2" fill="#fff"/>
<rect x="136" y="78" width="3" height="3" fill="#fff"/>
<rect x="137" y="75" width="1" height="2" fill="#fff"/>
<rect x="138" y="82" width="1" height="1" fill="#fff"/>
<rect x="141" y="78" width="3" height="3" fill="#fff"/>
<rect x="142" y="75" width="1" height="2" fill="#fff"/>
<rect x="143" y="82" width="1" height="1" fill="#fff"/>
<rect x="146" y="78" width="3" height="3" fill="#fff"/>
<rect x="148" y="82" width="1" height="1" fill="#fff"/>
<rect x="150" y="78" width="3" height="3" fill="#fff"/>
<rect x="150" y="82" width="1" height="1" fill="#fff"/>
<rect x="154" y="78" width="3" height="3" fill="#fff"/>
<rect x="155" y="75" width="1" height="2" fill="#fff"/>
<rect x="156" y="82" width="1" height="1" fill="#fff"/>
<rect x="159" y="78" width="3" height="3" fill="#fff"/>
<rect x="160" y="75" width="1" height="2" fill="#fff"/>
<rect x="164" y="78" width="3" height="3" fill="#fff"/>
<rect x="165" y="75" width="1" height="2" fill="#fff"/>
<rect x="166" y="82" width="1" height="1" fill="#fff"/>
<rect x="168" y="78" width="3" height="3" fill="#fff"/>
<rect x="169" y="75" width="1" height="2" fill="#fff"/>
<rect x="168" y="82" width="1" height="1" fill="#fff"/>
<rect x="172" y="78" width="3" height="3" fill="#fff"/>
<rect x="173" y="75" width="1" height="2" fill="#fff"/>
<rect x="177" y="78" width="3" height="3" fill="#fff"/>
<rect x="178" y="75" width="1" height="2" fill="#fff"/>
<rect x="182" y="78" width="3" height="3" fill="#fff"/>
<rect x="182" y="82" width="1" height="1" fill="#fff"/>
<rect x="186" y="78" width="3" height="3" fill="#fff"/>
<rect x="190" y="78" width="3" height="3" fill="#fff"/>
<rect x="191" y="75" width="1" height="2" fill="#fff"/>
<rect x="192" y="82" width="1" height="1" fill="#fff"/>
<rect x="195" y="78" width="3" height="3" fill="#fff"/>
<rect x="196" y="75" width="1" height="2" fill="#fff"/>
<rect x="197" y="82" width="1" height="1" fill="#fff"/>
<rect x="200" y="78" width="3" height="3" fill="#fff"/>
<rect x="201" y="75" width="1" height="2" fill="#fff"/>
<rect x="204" y="78" width="3" height="3" fill="#fff"/>
<rect x="205" y="75" width="1" height="2" fill="#fff"/>
<rect x="206" y="82" width="1" height="1" fill="#fff"/>
<rect x="208" y="78" width="3" height="3" fill="#fff"/>
<rect x="209" y="75" width="1" height="2" fill="#fff"/>
<rect x="213" y="78" width="3" height="3" fill="#fff"/>
<rect x="218" y="78" width="3" height="3" fill="#fff"/>
<rect x="219" y="75" width="1" height="2" fill="#fff"/>
<rect x="218" y="82" width="1" height="1" fill="#fff"/>
<rect x="222" y="78" width="3" height="3" fill="#fff"/>
<rect x="223" y="75" width="1" height="2" fill="#fff"/>
<rect x="222" y="82" width="1" height="1" fill="#fff"/>
<rect x="228" y="74" width="2" height="9" fill="#fff"/>
<rect x="228" y="74" width="4" height="1" fill="#fff"/>
<rect x="227" y="81" width="12" height="1" fill="#fff"/>
<rect x="234" y="73" width="5" height="1" fill="#fff"/>
<rect x="237" y="73" width="2" height="4" fill="#fff"/>
<rect x="231" y="77" width="8" height="4" fill="#fff"/>
<rect x="233" y="77" width="4" height="2" fill="#000"/>
<rect x="242" y="73" width="4" height="3" fill="#fff"/>
<rect x="242" y="77" width="4" height="4" fill="#fff"/>
<rect x="242" y="82" width="4" height="1" fill="#fff"/>
<rect x="95" y="49" width="133" height="1" fill="#fff"/>
<rect x="139" y="44" width="43" height="8" fill="#fff"/>
<path d="M143,47h3v1h-3zM143,48h1v1h-1zM146,48h1v1h-1zM143,49h3v1h-3zM143,50h1v1h-1zM146,50h1v1h-1zM143,51h1v1h-1zM146,51h1v1h-1zM151,47h2v1h-2zM150,48h1v1h-1zM153,48h1v1h-1zM150,49h1v1h-1zM153,49h1v1h-1zM150,50h4v1h-4zM150,51h1v1h-1zM153,51h1v1h-1zM157,47h1v1h-1zM160,47h1v1h-1zM157,48h2v1h-2zM160,48h1v1h-1zM157,49h2v1h-2zM160,49h1v1h-1zM157,50h1v1h-1zM159,50h2v1h-2zM157,51h1v1h-1zM159,51h2v1h-2zM163.5,47h1v1h-1zM166.5,47h1v1h-1zM163.5,48h1v1h-1zM165.5,48h1v1h-1zM163.5,49h2v1h-2zM163.5,50h1v1h-1zM165.5,50h1v1h-1zM163.5,51h1v1h-1zM166.5,51h1v1h-1zM175,47h2v1h-2zM174,48h1v1h-1zM177,48h1v1h-1zM177,49h1v1h-1zM176,50h1v1h-1zM175,51h1v1h-1z" fill="#000"/>
<rect x="139" y="68" width="43" height="8" fill="#fff"/>
<path d="M143,71h3v1h-3zM143,72h1v1h-1zM146,72h1v1h-1zM143,73h3v1h-3zM143,74h1v1h-1zM146,74h1v1h-1zM143,75h1v1h-1zM146,75h1v1h-1zM151,71h2v1h-2zM150,72h1v1h-1zM153,72h1v1h-1zM150,73h1v1h-1zM153,73h1v1h-1zM150,74h4v1h-4zM150,75h1v1h-1zM153,75h1v1h-1zM157,71h1v1h-1zM160,71h1v1h-1zM157,72h2v1h-2zM160,72h1v1h-1zM157,73h2v1h-2zM160,73h1v1h-1zM157,74h1v1h-1zM159,74h2v1h-2zM157,75h1v1h-1zM159,75h2v1h-2zM163.5,71h1v1h-1zM166.5,71h1v1h-1zM163.5,72h1v1h-1zM165.5,72h1v1h-1zM163.5,73h2v1h-2zM163.5,74h1v1h-1zM165.5,74h1v1h-1zM163.5,75h1v1h-1zM166.5,75h1v1h-1zM174,71h3v1h-3zM177,72h1v1h-1zM175,73h2v1h-2zM177,74h1v1h-1zM177,75h1v1h-1z" fill="#000"/>
<rect x="33" y="8" width="31" height="11" fill="#000"/>
<rect x="32" y="9" width="33" height="9" fill="#000"/>
<rect x="34" y="10" width="29" height="7" fill="#fff"/>
<path d="M37,11.5h1v1h-1zM37,12.5h1v1h-1zM37,13.5h1v1h-1zM37,14.5h1v1h-1zM35,15.5h1v1h-1zM37,15.5h1v1h-1zM36,16.5h1v1h-1zM42,11.5h2v1h-2zM42,12.5h1v1h-1zM44,12.5h1v1h-1zM42,13.5h1v1h-1zM44,13.5h1v1h-1zM42,14.5h2v1h-2zM42,15.5h1v1h-1zM42,16.5h1v1h-1zM47,11.5h2v1h-2zM49,12.5h1v1h-1zM49,13.5h1v1h-1zM48,14.5h1v1h-1zM47,15.5h1v1h-1zM47,16.5h3v1h-3zM53,11.5h2v1h-2zM55,12.5h1v1h-1zM54,13.5h1v1h-1zM55,14.5h1v1h-1zM55,15.5h1v1h-1zM53,16.5h2v1h-2z" fill="#000"/>
<rect x="3" y="20" width="30" height="12" fill="#000"/>
<rect x="2" y="21" width="32" height="10" fill="#000"/>
<rect x="4" y="22" width="28" height="8" fill="#fff"/>
<path d="M7.5,24.5h1v1h-1zM7.5,25.5h1v1h-1zM7.5,26.5h1v1h-1zM7.5,27.5h1v1h-1zM5.5,28.5h1v1h-1zM7.5,28.5h1v1h-1zM6.5,29.5h1v1h-1zM12,24.5h2v1h-2zM12,25.5h1v1h-1zM14,25.5h1v1h-1zM12,26.5h1v1h-1zM14,26.5h1v1h-1zM12,27.5h2v1h-2zM12,28.5h1v1h-1zM12,29.5h1v1h-1zM18.6,24.5h1v1h-1zM17.6,25.5h2v1h-2zM18.6,26.5h1v1h-1zM18.6,27.5h1v1h-1zM18.6,28.5h1v1h-1zM18.6,29.5h1v1h-1zM23.7,24.5h3v1h-3zM25.7,25.5h1v1h-1zM25.7,26.5h1v1h-1zM24.7,27.5h1v1h-1zM24.7,28.5h1v1h-1zM24.7,29.5h1v1h-1z" fill="#000"/>
<rect x="96" y="2" width="32" height="12" fill="#000"/>
<rect x="95" y="3" width="34" height="10" fill="#000"/>
<rect x="97" y="4" width="30" height="8" fill="#fff"/>
<path d="M101.5,5.5h1v1h-1zM101.5,6.5h1v1h-1zM101.5,7.5h1v1h-1zM101.5,8.5h1v1h-1zM99.5,9.5h1v1h-1zM101.5,9.5h1v1h-1zM100.5,10.5h1v1h-1zM106.5,5.5h2v1h-2zM106.5,6.5h1v1h-1zM108.5,6.5h1v1h-1zM106.5,7.5h1v1h-1zM108.5,7.5h1v1h-1zM106.5,8.5h2v1h-2zM106.5,9.5h1v1h-1zM106.5,10.5h1v1h-1zM110.5,5.5h2v1h-2zM112.5,6.5h1v1h-1zM112.5,7.5h1v1h-1zM111.5,8.5h1v1h-1zM110.5,9.5h1v1h-1zM110.5,10.5h3v1h-3zM117.5,5.5h2v1h-2zM119.5,6.5h1v1h-1zM119.5,7.5h1v1h-1zM118.5,8.5h1v1h-1zM117.5,9.5h1v1h-1zM117.5,10.5h3v1h-3z" fill="#000"/>
<rect x="194" y="10" width="31" height="12" fill="#000"/>
<rect x="193" y="11" width="33" height="10" fill="#000"/>
<rect x="195" y="12" width="29" height="8" fill="#fff"/>
<path d="M199.5,14h1v1h-1zM199.5,15h1v1h-1zM199.5,16h1v1h-1zM199.5,17h1v1h-1zM197.5,18h1v1h-1zM199.5,18h1v1h-1zM198.5,19h1v1h-1zM204.5,14h2v1h-2zM204.5,15h1v1h-1zM206.5,15h1v1h-1zM204.5,16h1v1h-1zM206.5,16h1v1h-1zM204.5,17h2v1h-2zM204.5,18h1v1h-1zM204.5,19h1v1h-1zM209.5,14h2v1h-2zM211.5,15h1v1h-1zM211.5,16h1v1h-1zM210.5,17h1v1h-1zM209.5,18h1v1h-1zM209.5,19h3v1h-3zM217.2,14h1v1h-1zM216.2,15h2v1h-2zM217.2,16h1v1h-1zM217.2,17h1v1h-1zM217.2,18h1v1h-1zM217.2,19h1v1h-1z" fill="#000"/>
<rect x="261" y="19" width="26" height="11" fill="#000"/>
<rect x="260" y="20" width="28" height="9" fill="#000"/>
<rect x="262" y="21" width="24" height="7" fill="#fff"/>
<path d="M267,22.5h1v1h-1zM267,23.5h1v1h-1zM267,24.5h1v1h-1zM267,25.5h1v1h-1zM265,26.5h1v1h-1zM267,26.5h1v1h-1zM266,27.5h1v1h-1zM270.5,22.5h2v1h-2zM270.5,23.5h1v1h-1zM272.5,23.5h1v1h-1zM270.5,24.5h1v1h-1zM272.5,24.5h1v1h-1zM270.5,25.5h2v1h-2zM270.5,26.5h1v1h-1zM270.5,27.5h1v1h-1zM276.5,22.5h1v1h-1zM275.5,23.5h1v1h-1zM277.5,23.5h1v1h-1zM276.5,24.5h1v1h-1zM275.5,25.5h1v1h-1zM277.5,25.5h1v1h-1zM275.5,26.5h1v1h-1zM277.5,26.5h1v1h-1zM276.5,27.5h1v1h-1z" fill="#000"/>
<rect x="379" y="49" width="31" height="12" fill="#000"/>
<rect x="378" y="50" width="33" height="10" fill="#000"/>
<rect x="380" y="51" width="29" height="8" fill="#fff"/>
<path d="M384,53h1v1h-1zM384,54h1v1h-1zM384,55h1v1h-1zM384,56h1v1h-1zM382,57h1v1h-1zM384,57h1v1h-1zM383,58h1v1h-1zM388,53h2v1h-2zM388,54h1v1h-1zM390,54h1v1h-1zM388,55h1v1h-1zM390,55h1v1h-1zM388,56h2v1h-2zM388,57h1v1h-1zM388,58h1v1h-1zM394.5,53h1v1h-1zM393.5,54h2v1h-2zM394.5,55h1v1h-1zM394.5,56h1v1h-1zM394.5,57h1v1h-1zM394.5,58h1v1h-1zM400,53h1v1h-1zM399,54h1v1h-1zM401,54h1v1h-1zM399,55h1v1h-1zM401,55h1v1h-1zM400,56h2v1h-2zM401,57h1v1h-1zM399,58h2v1h-2z" fill="#000"/>
<rect x="280" y="88" width="30" height="12" fill="#000"/>
<rect x="279" y="89" width="32" height="10" fill="#000"/>
<rect x="281" y="90" width="28" height="8" fill="#fff"/>
<path d="M285,92.7h1v1h-1zM285,93.7h1v1h-1zM285,94.7h1v1h-1zM285,95.7h1v1h-1zM283,96.7h1v1h-1zM285,96.7h1v1h-1zM284,97.7h1v1h-1zM289,92.7h2v1h-2zM289,93.7h1v1h-1zM291,93.7h1v1h-1zM289,94.7h1v1h-1zM291,94.7h1v1h-1zM289,95.7h2v1h-2zM289,96.7h1v1h-1zM289,97.7h1v1h-1zM295.5,92.7h1v1h-1zM294.5,93.7h2v1h-2zM295.5,94.7h1v1h-1zM295.5,95.7h1v1h-1zM295.5,96.7h1v1h-1zM295.5,97.7h1v1h-1zM301.5,92.7h1v1h-1zM300.5,93.7h1v1h-1zM302.5,93.7h1v1h-1zM301.5,94.7h1v1h-1zM300.5,95.7h1v1h-1zM302.5,95.7h1v1h-1zM300.5,96.7h1v1h-1zM302.5,96.7h1v1h-1zM301.5,97.7h1v1h-1z" fill="#000"/>
<rect x="178" y="207" width="30" height="11" fill="#000"/>
<rect x="177" y="208" width="32" height="9" fill="#000"/>
<rect x="179" y="209" width="28" height="7" fill="#fff"/>
<path d="M181.5,211h1v1h-1zM181.5,212h1v1h-1zM181.5,213h1v1h-1zM181.5,214h1v1h-1zM179.5,215h1v1h-1zM181.5,215h1v1h-1zM180.5,216h1v1h-1zM185.5,211h2v1h-2zM185.5,212h1v1h-1zM187.5,212h1v1h-1zM185.5,213h1v1h-1zM187.5,213h1v1h-1zM185.5,214h2v1h-2zM185.5,215h1v1h-1zM185.5,216h1v1h-1zM192,211h1v1h-1zM191,212h2v1h-2zM192,213h1v1h-1zM192,214h1v1h-1zM192,215h1v1h-1zM192,216h1v1h-1zM197,211h3v1h-3zM197,212h1v1h-1zM197,213h2v1h-2zM199,214h1v1h-1zM199,215h1v1h-1zM197,216h2v1h-2z" fill="#000"/>
<rect x="184" y="228" width="30" height="12" fill="#000"/>
<rect x="183" y="229" width="32" height="10" fill="#000"/>
<rect x="185" y="230" width="28" height="8" fill="#fff"/>
<path d="M188,232.5h1v1h-1zM188,233.5h1v1h-1zM188,234.5h1v1h-1zM188,235.5h1v1h-1zM186,236.5h1v1h-1zM188,236.5h1v1h-1zM187,237.5h1v1h-1zM192,232.5h2v1h-2zM192,233.5h1v1h-1zM194,233.5h1v1h-1zM192,234.5h1v1h-1zM194,234.5h1v1h-1zM192,235.5h2v1h-2zM192,236.5h1v1h-1zM192,237.5h1v1h-1zM198.5,232.5h1v1h-1zM197.5,233.5h2v1h-2zM198.5,234.5h1v1h-1zM198.5,235.5h1v1h-1zM198.5,236.5h1v1h-1zM198.5,237.5h1v1h-1zM203.8,232.5h1v1h-1zM205.8,232.5h1v1h-1zM203.8,233.5h1v1h-1zM205.8,233.5h1v1h-1zM203.8,234.5h1v1h-1zM205.8,234.5h1v1h-1zM203.8,235.5h3v1h-3zM205.8,236.5h1v1h-1zM205.8,237.5h1v1h-1z" fill="#000"/>
<rect x="582" y="148" width="30" height="10" fill="#000"/>
<rect x="581" y="149" width="32" height="8" fill="#000"/>
<rect x="583" y="150" width="28" height="6" fill="#fff"/>
<path d="M585,150.5h1v1h-1zM585,151.5h1v1h-1zM585,152.5h1v1h-1zM585,153.5h1v1h-1zM583,154.5h1v1h-1zM585,154.5h1v1h-1zM584,155.5h1v1h-1zM589,150.5h2v1h-2zM589,151.5h1v1h-1zM591,151.5h1v1h-1zM589,152.5h1v1h-1zM591,152.5h1v1h-1zM589,153.5h2v1h-2zM589,154.5h1v1h-1zM589,155.5h1v1h-1zM595,150.5h2v1h-2zM597,151.5h1v1h-1zM597,152.5h1v1h-1zM596,153.5h1v1h-1zM595,154.5h1v1h-1zM595,155.5h3v1h-3zM602,150.5h1v1h-1zM601,151.5h1v1h-1zM603,151.5h1v1h-1zM601,152.5h1v1h-1zM603,152.5h1v1h-1zM601,153.5h1v1h-1zM603,153.5h1v1h-1zM601,154.5h1v1h-1zM603,154.5h1v1h-1zM602,155.5h1v1h-1z" fill="#000"/>
<rect x="591" y="207" width="30" height="11" fill="#000"/>
<rect x="590" y="208" width="32" height="9" fill="#000"/>
<rect x="592" y="209" width="28" height="7" fill="#fff"/>
<path d="M594.7,211h1v1h-1zM594.7,212h1v1h-1zM594.7,213h1v1h-1zM594.7,214h1v1h-1zM592.7,215h1v1h-1zM594.7,215h1v1h-1zM593.7,216h1v1h-1zM598,211h2v1h-2zM598,212h1v1h-1zM600,212h1v1h-1zM598,213h1v1h-1zM600,213h1v1h-1zM598,214h2v1h-2zM598,215h1v1h-1zM598,216h1v1h-1zM606.4,211h1v1h-1zM605.4,212h2v1h-2zM606.4,213h1v1h-1zM606.4,214h1v1h-1zM606.4,215h1v1h-1zM606.4,216h1v1h-1zM610.4,211h2v1h-2zM612.4,212h1v1h-1zM611.4,213h1v1h-1zM612.4,214h1v1h-1zM612.4,215h1v1h-1zM610.4,216h2v1h-2z" fill="#000"/>
<rect x="453" y="307" width="25" height="13" fill="#000"/>
<rect x="452" y="308" width="27" height="11" fill="#000"/>
<rect x="454" y="309" width="23" height="9" fill="#fff"/>
<path d="M458,312h1v1h-1zM458,313h1v1h-1zM458,314h1v1h-1zM458,315h1v1h-1zM456,316h1v1h-1zM458,316h1v1h-1zM457,317h1v1h-1zM462.5,312h2v1h-2zM462.5,313h1v1h-1zM464.5,313h1v1h-1zM462.5,314h1v1h-1zM464.5,314h1v1h-1zM462.5,315h2v1h-2zM462.5,316h1v1h-1zM462.5,317h1v1h-1zM470.3,312h1v1h-1zM469.3,313h2v1h-2zM470.3,314h1v1h-1zM470.3,315h1v1h-1zM470.3,316h1v1h-1zM470.3,317h1v1h-1z" fill="#000"/>
<rect x="376" y="316" width="26" height="13" fill="#000"/>
<rect x="375" y="317" width="28" height="11" fill="#000"/>
<rect x="377" y="318" width="24" height="9" fill="#fff"/>
<path d="M380.7,320.5h1v1h-1zM380.7,321.5h1v1h-1zM380.7,322.5h1v1h-1zM380.7,323.5h1v1h-1zM378.7,324.5h1v1h-1zM380.7,324.5h1v1h-1zM379.7,325.5h1v1h-1zM384.7,320.5h2v1h-2zM384.7,321.5h1v1h-1zM386.7,321.5h1v1h-1zM384.7,322.5h1v1h-1zM386.7,322.5h1v1h-1zM384.7,323.5h2v1h-2zM384.7,324.5h1v1h-1zM384.7,325.5h1v1h-1zM390.6,320.5h2v1h-2zM392.6,321.5h1v1h-1zM391.6,322.5h1v1h-1zM392.6,323.5h1v1h-1zM392.6,324.5h1v1h-1zM390.6,325.5h2v1h-2z" fill="#000"/>
<rect x="277" y="375" width="31" height="12" fill="#000"/>
<rect x="276" y="376" width="33" height="10" fill="#000"/>
<rect x="278" y="377" width="29" height="8" fill="#fff"/>
<path d="M282.3,379.5h1v1h-1zM282.3,380.5h1v1h-1zM282.3,381.5h1v1h-1zM282.3,382.5h1v1h-1zM280.3,383.5h1v1h-1zM282.3,383.5h1v1h-1zM281.3,384.5h1v1h-1zM286,379.5h2v1h-2zM286,380.5h1v1h-1zM288,380.5h1v1h-1zM286,381.5h1v1h-1zM288,381.5h1v1h-1zM286,382.5h2v1h-2zM286,383.5h1v1h-1zM286,384.5h1v1h-1zM291.5,379.5h2v1h-2zM293.5,380.5h1v1h-1zM293.5,381.5h1v1h-1zM292.5,382.5h1v1h-1zM291.5,383.5h1v1h-1zM291.5,384.5h3v1h-3zM298.5,379.5h2v1h-2zM297.5,380.5h1v1h-1zM297.5,381.5h2v1h-2zM297.5,382.5h1v1h-1zM299.5,382.5h1v1h-1zM297.5,383.5h1v1h-1zM299.5,383.5h1v1h-1zM298.5,384.5h1v1h-1z" fill="#000"/>
<line x1="33" y1="21" x2="37" y2="25.5" stroke="#000" stroke-width="1.6" shape-rendering="auto"/>
<line x1="33" y1="30" x2="37" y2="26.5" stroke="#000" stroke-width="1.6" shape-rendering="auto"/>
<line x1="37" y1="26" x2="45" y2="26" stroke="#000" stroke-width="2" shape-rendering="auto"/>
<rect x="45" y="24" width="11" height="4" fill="#000"/>
<rect x="46" y="25" width="1" height="2" fill="#fff"/>
<rect x="50" y="25" width="1" height="2" fill="#fff"/>
<line x1="63" y1="18" x2="71" y2="24.5" stroke="#000" stroke-width="1.8" shape-rendering="auto"/>
<rect x="61" y="24" width="11" height="4" fill="#000"/>
<rect x="62" y="25" width="1" height="2" fill="#fff"/>
<rect x="66" y="25" width="1" height="2" fill="#fff"/>
<rect x="70" y="25" width="1" height="2" fill="#fff"/>
<rect x="111" y="13" width="2" height="11" fill="#000"/>
<rect x="112" y="13" width="1" height="4" fill="#fff"/>
<rect x="100" y="24" width="24" height="4" fill="#000"/>
<rect x="105" y="25" width="1" height="2" fill="#fff"/>
<rect x="114" y="25" width="1" height="2" fill="#fff"/>
<rect x="117" y="25" width="1" height="2" fill="#fff"/>
<rect x="120" y="25" width="1" height="2" fill="#fff"/>
<line x1="195.5" y1="20.5" x2="189" y2="25" stroke="#000" stroke-width="1.8" shape-rendering="auto"/>
<rect x="168" y="24" width="21" height="4" fill="#000"/>
<rect x="169" y="25" width="1" height="2" fill="#fff"/>
<rect x="178" y="25" width="1" height="2" fill="#fff"/>
<rect x="183" y="25" width="1" height="2" fill="#fff"/>
<rect x="186" y="25" width="1" height="2" fill="#fff"/>
<line x1="249" y1="26" x2="255" y2="26" stroke="#000" stroke-width="2" shape-rendering="auto"/>
<path d="M260.8,22 L255,25 L260.8,28" fill="#fff" stroke="#000" stroke-width="1.6" shape-rendering="auto"/>
<rect x="238" y="24" width="11" height="4" fill="#000"/>
<rect x="240" y="25" width="1" height="2" fill="#fff"/>
<rect x="243" y="25" width="1" height="2" fill="#fff"/>
<line x1="367" y1="54.5" x2="372" y2="54.5" stroke="#000" stroke-width="2" shape-rendering="auto"/>
<path d="M378.8,51.5 L372,54.5 L378.8,57.5" fill="#fff" stroke="#000" stroke-width="1.6" shape-rendering="auto"/>
<rect x="362" y="50" width="5" height="9" fill="#000"/>
<rect x="363" y="54" width="2" height="1" fill="#fff"/>
<line x1="316" y1="94" x2="322" y2="94" stroke="#000" stroke-width="2" shape-rendering="auto"/>
<path d="M310.2,91 L316,94 L310.2,97" fill="#fff" stroke="#000" stroke-width="1.6" shape-rendering="auto"/>
<rect x="322" y="92" width="15" height="4" fill="#000"/>
<rect x="331" y="93" width="1" height="2" fill="#fff"/>
<rect x="333" y="93" width="1" height="2" fill="#fff"/>
<rect x="335" y="93" width="1" height="2" fill="#fff"/>
<line x1="178" y1="217.5" x2="171.5" y2="221.5" stroke="#000" stroke-width="1.8" shape-rendering="auto"/>
<rect x="167" y="219" width="5" height="9" fill="#000"/>
<rect x="168" y="223" width="3" height="1" fill="#fff"/>
<line x1="172" y1="234.5" x2="178" y2="234.5" stroke="#000" stroke-width="2" shape-rendering="auto"/>
<path d="M183.8,231.5 L178,234.5 L183.8,237.5" fill="#fff" stroke="#000" stroke-width="1.6" shape-rendering="auto"/>
<rect x="167.5" y="229.5" width="4" height="8" fill="#fff" stroke="#000"/>
<line x1="612" y1="157" x2="618" y2="161.5" stroke="#000" stroke-width="1.6" shape-rendering="auto"/>
<rect x="618.5" y="160.5" width="10" height="4" fill="#fff" stroke="#000"/>
<line x1="621" y1="217.5" x2="628" y2="223.5" stroke="#000" stroke-width="1.8" shape-rendering="auto"/>
<rect x="621" y="223" width="11" height="5" fill="#000"/>
<rect x="625" y="224" width="1" height="2" fill="#fff"/>
<rect x="628" y="224" width="1" height="2" fill="#fff"/>
<line x1="478" y1="318.5" x2="483.5" y2="322" stroke="#000" stroke-width="1.8" shape-rendering="auto"/>
<rect x="483.5" y="320.5" width="9" height="4" fill="#fff" stroke="#000"/>
<line x1="408" y1="322.5" x2="413" y2="322.5" stroke="#000" stroke-width="2" shape-rendering="auto"/>
<path d="M402.8,319.5 L408,322.5 L402.8,325.5" fill="#fff" stroke="#000" stroke-width="1.6" shape-rendering="auto"/>
<rect x="413" y="320" width="11" height="5" fill="#000"/>
<rect x="418" y="321" width="1" height="2" fill="#fff"/>
<line x1="314" y1="381" x2="319" y2="381" stroke="#000" stroke-width="2" shape-rendering="auto"/>
<path d="M308.8,378 L314,381 L308.8,384" fill="#fff" stroke="#000" stroke-width="1.6" shape-rendering="auto"/>
<rect x="319" y="379" width="20" height="5" fill="#000"/>
<rect x="322" y="380" width="1" height="2" fill="#fff"/>
<rect x="326" y="380" width="1" height="2" fill="#fff"/>
<rect x="330" y="380" width="1" height="2" fill="#fff"/>
<rect x="334" y="380" width="1" height="2" fill="#fff"/>
<ellipse cx="308.5" cy="388.4" rx="117.5" ry="25.3" fill="none" stroke="#000" stroke-width="1.3" shape-rendering="auto"/>
<path d="M247.8,394h1v1h-1zM247.8,395h1v1h-1zM247.8,396h1v1h-1zM247.8,397h1v1h-1zM247.8,398h1v1h-1zM247.8,399h4v1h-4zM253.8,394h3v1h-3zM252.8,395h1v1h-1zM256.8,395h1v1h-1zM252.8,396h1v1h-1zM256.8,396h1v1h-1zM252.8,397h1v1h-1zM256.8,397h1v1h-1zM252.8,398h1v1h-1zM256.8,398h1v1h-1zM253.8,399h3v1h-3zM261.6,394h3v1h-3zM260.6,395h1v1h-1zM264.6,395h1v1h-1zM260.6,396h1v1h-1zM260.6,397h1v1h-1zM260.6,398h1v1h-1zM264.6,398h1v1h-1zM261.6,399h3v1h-3zM269.8,394h1v1h-1zM268.8,395h1v1h-1zM270.8,395h1v1h-1zM268.8,396h1v1h-1zM270.8,396h1v1h-1zM267.8,397h5v1h-5zM267.8,398h1v1h-1zM271.8,398h1v1h-1zM267.8,399h1v1h-1zM271.8,399h1v1h-1zM274.5,394h5v1h-5zM276.5,395h1v1h-1zM276.5,396h1v1h-1zM276.5,397h1v1h-1zM276.5,398h1v1h-1zM276.5,399h1v1h-1zM281,394h1v1h-1zM281,395h1v1h-1zM281,396h1v1h-1zM281,397h1v1h-1zM281,398h1v1h-1zM281,399h1v1h-1zM285.5,394h3v1h-3zM284.5,395h1v1h-1zM288.5,395h1v1h-1zM284.5,396h1v1h-1zM288.5,396h1v1h-1zM284.5,397h1v1h-1zM288.5,397h1v1h-1zM284.5,398h1v1h-1zM288.5,398h1v1h-1zM285.5,399h3v1h-3zM292,394h1v1h-1zM296,394h1v1h-1zM292,395h2v1h-2zM296,395h1v1h-1zM292,396h1v1h-1zM294,396h1v1h-1zM296,396h1v1h-1zM292,397h1v1h-1zM294,397h1v1h-1zM296,397h1v1h-1zM292,398h1v1h-1zM295,398h2v1h-2zM292,399h1v1h-1zM296,399h1v1h-1zM303.9,394h1v1h-1zM307.9,394h1v1h-1zM303.9,395h1v1h-1zM307.9,395h1v1h-1zM303.9,396h1v1h-1zM307.9,396h1v1h-1zM303.9,397h1v1h-1zM307.9,397h1v1h-1zM303.9,398h1v1h-1zM307.9,398h1v1h-1zM304.9,399h3v1h-3zM311,394h1v1h-1zM315,394h1v1h-1zM311,395h2v1h-2zM315,395h1v1h-1zM311,396h1v1h-1zM313,396h1v1h-1zM315,396h1v1h-1zM311,397h1v1h-1zM313,397h1v1h-1zM315,397h1v1h-1zM311,398h1v1h-1zM314,398h2v1h-2zM311,399h1v1h-1zM315,399h1v1h-1zM317.8,394h1v1h-1zM317.8,395h1v1h-1zM317.8,396h1v1h-1zM317.8,397h1v1h-1zM317.8,398h1v1h-1zM317.8,399h1v1h-1zM322.2,394h3v1h-3zM322.2,395h1v1h-1zM325.2,395h1v1h-1zM322.2,396h1v1h-1zM325.2,396h1v1h-1zM322.2,397h1v1h-1zM325.2,397h1v1h-1zM322.2,398h1v1h-1zM325.2,398h1v1h-1zM322.2,399h3v1h-3zM329.4,394h4v1h-4zM329.4,395h1v1h-1zM329.4,396h3v1h-3zM329.4,397h1v1h-1zM329.4,398h1v1h-1zM329.4,399h4v1h-4zM336.3,394h1v1h-1zM340.3,394h1v1h-1zM336.3,395h2v1h-2zM340.3,395h1v1h-1zM336.3,396h1v1h-1zM338.3,396h1v1h-1zM340.3,396h1v1h-1zM336.3,397h1v1h-1zM338.3,397h1v1h-1zM340.3,397h1v1h-1zM336.3,398h1v1h-1zM339.3,398h2v1h-2zM336.3,399h1v1h-1zM340.3,399h1v1h-1zM342.2,394h5v1h-5zM344.2,395h1v1h-1zM344.2,396h1v1h-1zM344.2,397h1v1h-1zM344.2,398h1v1h-1zM344.2,399h1v1h-1zM349,394h1v1h-1zM349,395h1v1h-1zM349,396h1v1h-1zM349,397h1v1h-1zM349,398h1v1h-1zM349,399h1v1h-1zM352.5,394h4v1h-4zM352.5,395h1v1h-1zM352.5,396h3v1h-3zM352.5,397h1v1h-1zM352.5,398h1v1h-1zM352.5,399h1v1h-1zM358.8,394h1v1h-1zM358.8,395h1v1h-1zM358.8,396h1v1h-1zM358.8,397h1v1h-1zM358.8,398h1v1h-1zM358.8,399h1v1h-1zM362.2,394h4v1h-4zM362.2,395h1v1h-1zM362.2,396h3v1h-3zM362.2,397h1v1h-1zM362.2,398h1v1h-1zM362.2,399h4v1h-4zM369.1,394h3v1h-3zM369.1,395h1v1h-1zM372.1,395h1v1h-1zM369.1,396h1v1h-1zM372.1,396h1v1h-1zM369.1,397h1v1h-1zM372.1,397h1v1h-1zM369.1,398h1v1h-1zM372.1,398h1v1h-1zM369.1,399h3v1h-3z" fill="#000"/>
</svg>
</body></html>
